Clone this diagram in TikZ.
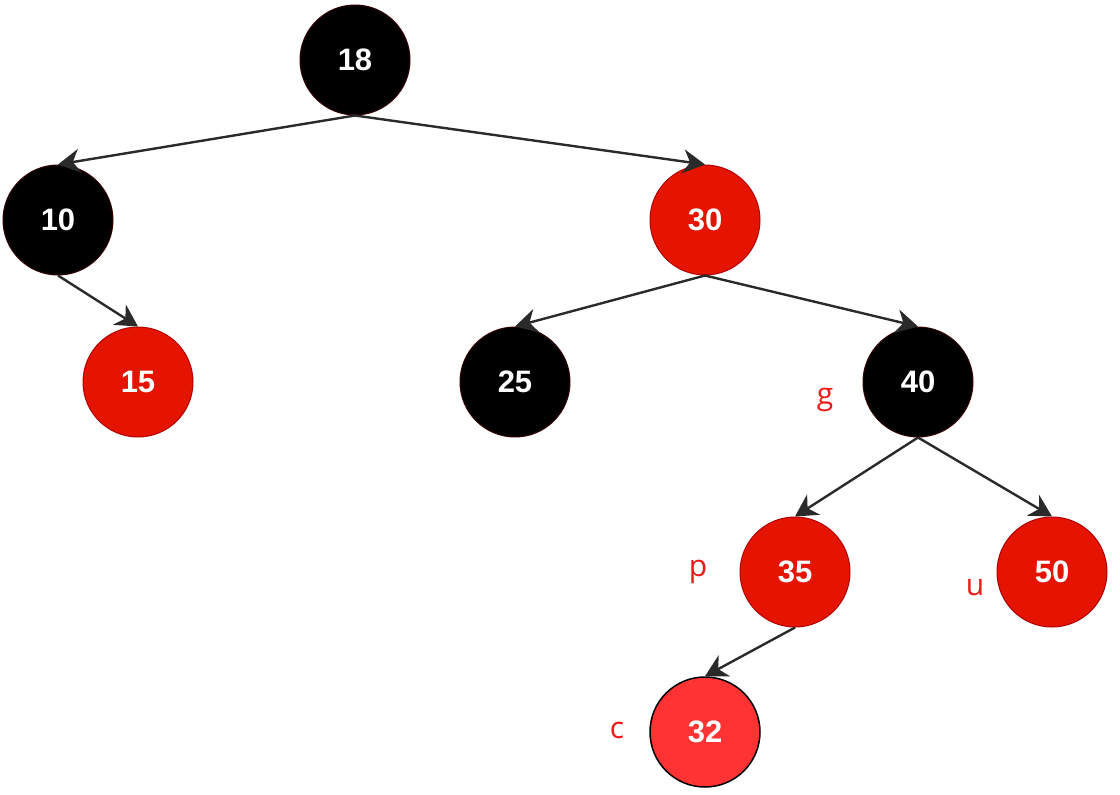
\documentclass[tikz,border=0pt]{standalone}
\usepackage{fontspec}
\setmainfont{Liberation Sans}
\newfontfamily\lblfont{Open Sans}
\usetikzlibrary{arrows.meta}
\definecolor{rbred}{HTML}{E51400}
\definecolor{rbredline}{HTML}{B20000}
\definecolor{newred}{HTML}{FF3333}
\definecolor{blkline}{HTML}{330000}
\definecolor{edgegray}{HTML}{2A2A2A}
\definecolor{lblred}{HTML}{F01818}
\tikzset{
  rbnode/.style={circle, minimum size=110pt, inner sep=0pt, line width=1pt, text=white, font=\fontsize{31}{36}\selectfont\bfseries},
  blacknode/.style={rbnode, fill=black, draw=blkline},
  rednode/.style={rbnode, fill=rbred, draw=rbredline},
  newnode/.style={rbnode, fill=newred, draw=black, line width=1.5pt},
  edge/.style={draw=edgegray, line width=2.4pt, -{Stealth[length=22pt,width=24pt,inset=7pt]}},
  lbl/.style={text=lblred, font=\lblfont\fontsize{30}{34}\selectfont, inner sep=0pt}
}
\begin{document}
\begin{tikzpicture}[x=1pt,y=-1pt]
\useasboundingbox (0,0) rectangle (1120,795);
\node[blacknode] (n18) at (355,60) {18};
\node[blacknode] (n10) at (58,220) {10};
\node[rednode] (n30) at (705,220) {30};
\node[rednode] (n15) at (138,382) {15};
\node[blacknode] (n25) at (515,382) {25};
\node[blacknode] (n40) at (918,382) {40};
\node[rednode] (n35) at (795,572) {35};
\node[rednode] (n50) at (1052,572) {50};
\node[newnode] (n32) at (705,732) {32};
\draw[edge] (n18.south) -- (n10.north);
\draw[edge] (n18.south) -- (n30.north);
\draw[edge] (n10.south) -- (n15.north);
\draw[edge] (n30.south) -- (n25.north);
\draw[edge] (n30.south) -- (n40.north);
\draw[edge] (n40.south) -- (n35.north);
\draw[edge] (n40.south) -- (n50.north);
\draw[edge] (n35.south) -- (n32.north);
\node[lbl] (lg) at (825,400) {g};
\node[lbl] (lp) at (698,572) {p};
\node[lbl] (lu) at (975,588) {u};
\node[lbl] (lc) at (617,730) {c};
\end{tikzpicture}
\end{document}
